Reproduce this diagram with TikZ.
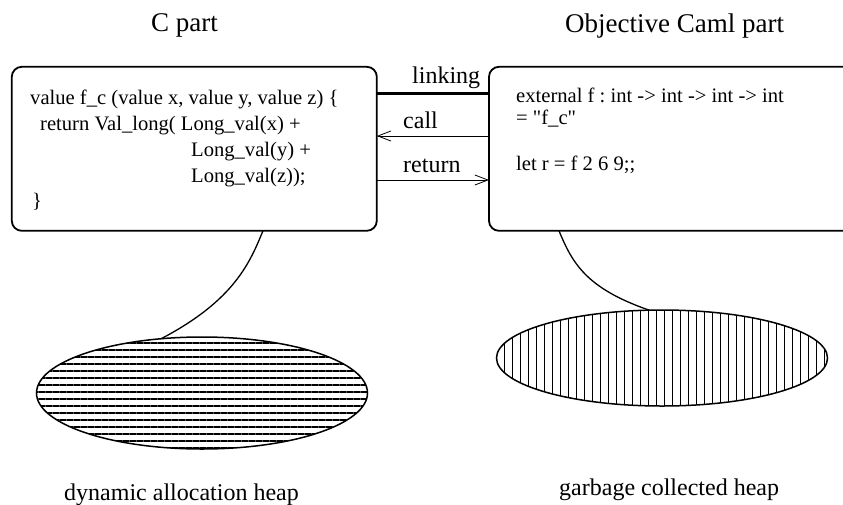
\documentclass[tikz,border=0pt]{standalone}
\usepackage{fontspec}
\setmainfont{Liberation Serif}
\frenchspacing
\usetikzlibrary{shapes.geometric,patterns.meta,arrows.meta}
\tikzset{
  codebox/.style={draw, line width=1.8pt, rounded corners=10pt, inner sep=0pt, outer sep=0pt},
  codeline/.style={anchor=base west, inner sep=0pt, font=\fontsize{20.6pt}{25pt}\selectfont},
  title/.style={anchor=base west, inner sep=0pt, font=\fontsize{27pt}{32pt}\selectfont},
  note/.style={anchor=base west, inner sep=0pt, font=\fontsize{24pt}{29pt}\selectfont},
  heap/.style={draw, ellipse, line width=1.5pt, inner sep=0pt, outer sep=0pt},
  msg/.style={line width=0.8pt, -{Straight Barb[length=13pt,width=10pt]}},
  tail/.style={line width=1.3pt}
}

\begin{document}
\begin{tikzpicture}[x=1pt,y=-1pt]
		%%%%% frame %%%%%
		\clip (0,0) rectangle (843,504);
		
		\node[title] (ctitle) at (151,31.5) {C part};
		\node[title] (otitle) at (565,32) {Objective Caml part};
		
		%%%%% boxes %%%%%
		\node[codebox, minimum width=365pt, minimum height=164pt] (cbox) at (194.3,148.8) {};
		\node[codebox, minimum width=431pt, minimum height=164pt] (obox) at (704.5,148.8) {};
		
		\node[codeline] (c1) at (30,104) {value f\_c (value x, value y, value z) \{};
		\node[codeline] (c2) at (40,130) {return Val\_long( Long\_val(x) +};
		\node[codeline] (c3) at (191,156) {Long\_val(y) +};
		\node[codeline] (c4) at (191,182) {Long\_val(z));};
		\node[codeline] (c5) at (32,207) {\}};
		
		\node[codeline] (o1) at (516,102) {external f : int -> int -> int -> int};
		\node[codeline] (o2) at (516,124) {= \textquotedbl f\_c\textquotedbl};
		\node[codeline] (o3) at (516,170) {let r = f 2 6 9;;};
		
		%%%%% links between the parts %%%%%
		\coordinate (lk) at (0,93.5);
		\coordinate (cl) at (0,136);
		\coordinate (rt) at (0,180);
		\draw[line width=3.6pt] (cbox.east |- lk) -- (obox.west |- lk);
		\draw[msg] (obox.west |- cl) -- (cbox.east |- cl);
		\draw[msg] (cbox.east |- rt) -- (obox.west |- rt);
		\node[note] (linking) at (412,83) {linking};
		\node[note] (call) at (403,128) {call};
		\node[note] (return) at (403,172) {return};
		
		%%%%% heaps %%%%%
		\node[heap, minimum width=331pt, minimum height=112pt,
		  pattern={Lines[distance=7pt,line width=2.3pt]}] (dheap) at (202,393) {};
		\node[heap, minimum width=331pt, minimum height=96pt,
		  pattern={Lines[angle=90,distance=8pt,line width=1pt]}] (gheap) at (662,358) {};
		
		\draw[tail] ([xshift=68.7pt]cbox.south) .. controls (250,262) and (235,300) .. (dheap.127);
		\draw[tail] ([xshift=-145.5pt]obox.south) .. controls (572,262) and (585,288) .. (gheap.105);
		
		\node[note] (dlabel) at (64,500) {dynamic allocation heap};
		\node[note] (glabel) at (559,495) {garbage collected heap};
		
	\end{tikzpicture}
\end{document}
